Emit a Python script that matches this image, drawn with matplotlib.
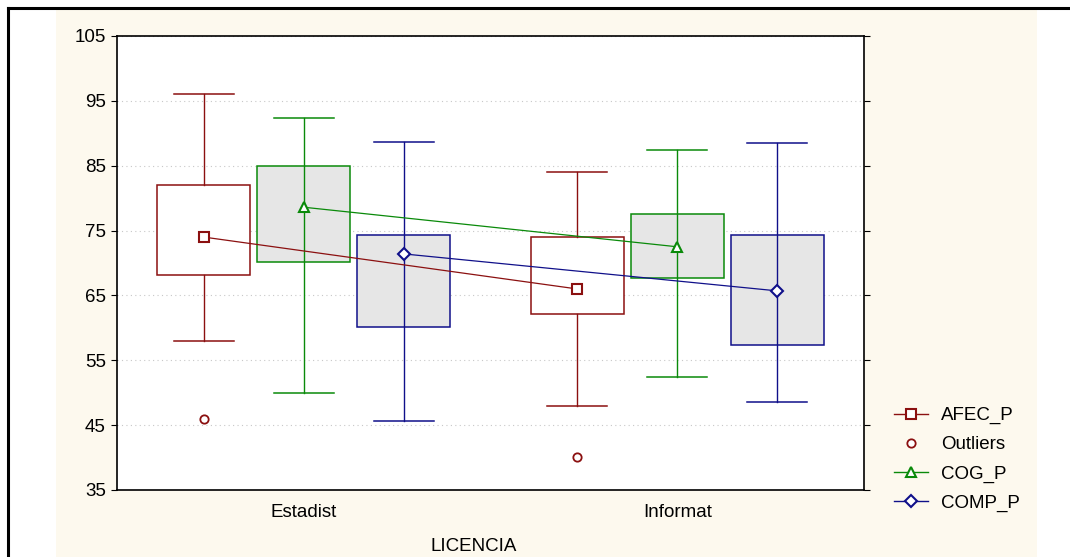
import matplotlib
matplotlib.use("Agg")
import matplotlib.pyplot as plt
from matplotlib.lines import Line2D
from matplotlib.patches import Rectangle

plt.rcParams["font.family"] = ["Liberation Sans", "DejaVu Sans"]

categories = ["Estadist", "Informat"]
series = ["AFEC_P", "COG_P", "COMP_P"]

# per series, one value per category
means = {"AFEC_P": [74.0, 66.0], "COG_P": [78.6, 72.5], "COMP_P": [71.4, 65.7]}
box_low = {"AFEC_P": [68.2, 62.2], "COG_P": [70.2, 67.7], "COMP_P": [60.2, 57.4]}
box_high = {"AFEC_P": [82.0, 74.0], "COG_P": [85.0, 77.5], "COMP_P": [74.3, 74.3]}
whisk_low = {"AFEC_P": [58.0, 48.0], "COG_P": [50.0, 52.5], "COMP_P": [45.7, 48.6]}
whisk_high = {"AFEC_P": [96.0, 84.0], "COG_P": [92.4, 87.5], "COMP_P": [88.6, 88.5]}
outliers = {"AFEC_P": [[46.0], [40.1]], "COG_P": [[], []], "COMP_P": [[], []]}

colors = {"AFEC_P": "#8B1010", "COG_P": "#0A8A0A", "COMP_P": "#10108A"}
markers = {"AFEC_P": "s", "COG_P": "^", "COMP_P": "D"}
msize = {"AFEC_P": 6.5, "COG_P": 6.5, "COMP_P": 6}
faces = {"AFEC_P": "white", "COG_P": "#E6E6E6", "COMP_P": "#E6E6E6"}
offsets = {"AFEC_P": -0.268, "COG_P": 0.0, "COMP_P": 0.268}

yticks = [35, 45, 55, 65, 75, 85, 95, 105]
FS = 13.5

fig = plt.figure(figsize=(10.70, 5.57), dpi=100)
fig.patch.set_facecolor("white")

# cream panel behind the plot and the outer frame lines
fig.add_artist(Rectangle((56 / 1070, 0), (1037 - 56) / 1070, 1 - 9 / 557,
                         transform=fig.transFigure, facecolor="#FDF9EE",
                         edgecolor="none", zorder=0))
fig.add_artist(Line2D([8 / 1070, 8 / 1070], [0, 1 - 8 / 557], transform=fig.transFigure,
                      color="black", lw=2.2))
fig.add_artist(Line2D([8 / 1070, 1.0], [1 - 8 / 557, 1 - 8 / 557], transform=fig.transFigure,
                      color="black", lw=2.2))

ax = fig.add_axes([117 / 1070, 67 / 557, 747 / 1070, 454 / 557])
ax.set_facecolor("white")

box_w = 0.249
cap_w = 0.16
for s in series:
    c = colors[s]
    for i in range(len(categories)):
        x = i + 1 + offsets[s]
        lo, hi = box_low[s][i], box_high[s][i]
        ax.add_patch(Rectangle((x - box_w / 2, lo), box_w, hi - lo, facecolor=faces[s],
                               edgecolor=c, lw=1.1, zorder=2))
        if s == "AFEC_P":
            ax.plot([x, x], [hi, whisk_high[s][i]], color=c, lw=1.0, zorder=3)
            ax.plot([x, x], [whisk_low[s][i], lo], color=c, lw=1.0, zorder=3)
        else:
            ax.plot([x, x], [whisk_low[s][i], whisk_high[s][i]], color=c, lw=1.0, zorder=3)
        for y in (whisk_low[s][i], whisk_high[s][i]):
            ax.plot([x - cap_w / 2, x + cap_w / 2], [y, y], color=c, lw=1.1, zorder=3)
        for y in outliers[s][i]:
            ax.plot(x, y, "o", ms=6, mfc="white", mec=c, mew=1.3, zorder=5)

    xs = [i + 1 + offsets[s] for i in range(len(categories))]
    ax.plot(xs, means[s], color=c, lw=0.9, zorder=4)
    ax.plot(xs, means[s], ls="none", marker=markers[s], ms=msize[s], mfc="white",
            mec=c, mew=1.5, zorder=6)

ax.set_xlim(0.5, 2.5)
ax.set_ylim(35, 105)
ax.set_yticks(yticks)
ax.set_xticks([1, 2])
ax.set_xticklabels(categories)
ax.tick_params(axis="x", length=0, pad=10, labelsize=FS)
ax.tick_params(axis="y", length=4, direction="out", right=True, labelsize=FS, pad=4)
ax.yaxis.grid(True, ls=(0, (1, 3)), color="#C8C8C8", lw=0.8)
ax.set_axisbelow(True)
for sp in ax.spines.values():
    sp.set_linewidth(1.2)
ax.set_xlabel("LICENCIA", fontsize=FS)
ax.xaxis.set_label_coords((474 - 117) / 747, -0.105)

handles = [
    Line2D([], [], color=colors["AFEC_P"], marker="s", ms=6.5, mfc="white", mew=1.5, lw=1),
    Line2D([], [], ls="none", color=colors["AFEC_P"], marker="o", ms=6, mfc="white", mew=1.3),
    Line2D([], [], color=colors["COG_P"], marker="^", ms=6.5, mfc="white", mew=1.5, lw=1),
    Line2D([], [], color=colors["COMP_P"], marker="D", ms=6, mfc="white", mew=1.5, lw=1),
]
labels = ["AFEC_P", "Outliers", "COG_P", "COMP_P"]
fig.legend(handles, labels, loc="upper left", bbox_to_anchor=(894 / 1070, 1 - 407 / 557),
           frameon=False, fontsize=FS, handlelength=1.8, handletextpad=0.7,
           labelspacing=0.64, borderaxespad=0, borderpad=0)

fig.savefig("out.png", dpi=100)
